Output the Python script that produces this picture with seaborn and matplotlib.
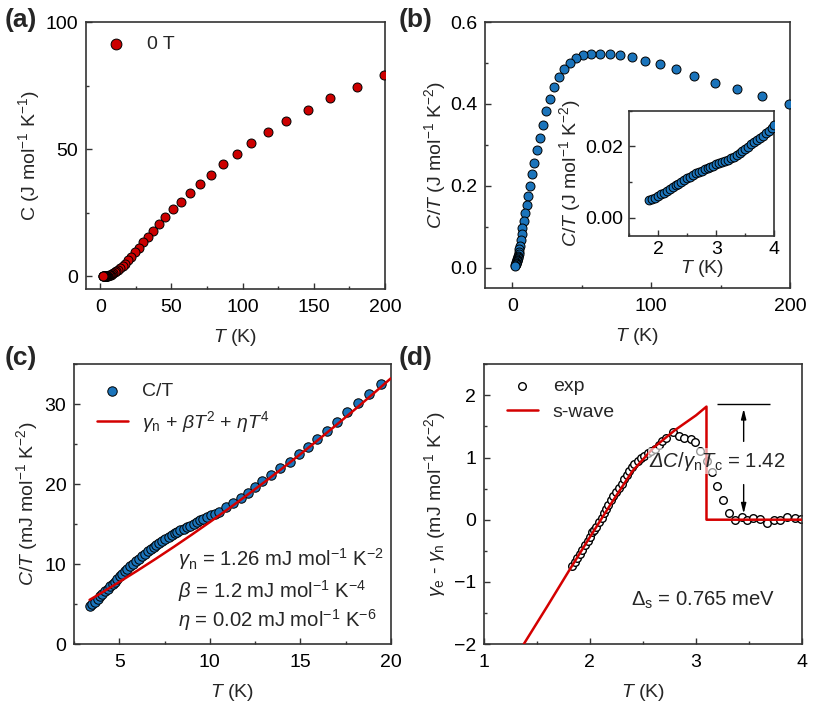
import matplotlib
matplotlib.use('Agg')
import matplotlib.pyplot as plt
import seaborn as sns
from matplotlib.ticker import AutoMinorLocator, MultipleLocator

# ---- (a) / (b): specific heat over the full range ----
temp_full = [199, 180, 161.5, 145.7, 130.5, 117.8, 106.2, 95.7, 85.9, 77.7,
             70, 63, 56.6, 50.8, 45.8, 41.3, 37.3, 33.5, 30.2, 27.1,
             24.5, 21.9, 19.6, 17.4, 15.7, 14.0, 12.5, 11.3, 10.1, 9.2,
             8.2, 7.2, 6.5, 5.8, 5.1, 4.8, 4.6, 4.4, 4.2, 4.0,
             3.8, 3.6, 3.4, 3.2, 3.0, 2.8, 2.6, 2.4, 2.2, 2.0, 1.85]
heat_c = [79.0, 74.5, 70.3, 65.5, 61.1, 56.6, 52.5, 48.1, 44.0, 40.0,
          36.2, 32.7, 29.4, 26.3, 23.4, 20.6, 18.0, 15.5, 13.3, 11.1,
          9.4, 7.7, 6.3, 5.0, 4.0, 3.2, 2.5, 2.0, 1.55, 1.23,
          0.94, 0.70, 0.53, 0.39, 0.27, 0.21, 0.17, 0.14, 0.12, 0.10,
          0.088, 0.074, 0.061, 0.052, 0.044, 0.036, 0.028, 0.022, 0.017, 0.012, 0.009]
c_over_t = [0.400, 0.418, 0.437, 0.452, 0.469, 0.484, 0.497, 0.505, 0.514, 0.520,
            0.521, 0.522, 0.522, 0.520, 0.512, 0.500, 0.485, 0.465, 0.441, 0.412,
            0.382, 0.349, 0.316, 0.287, 0.256, 0.229, 0.200, 0.175, 0.153, 0.134,
            0.114, 0.097, 0.081, 0.067, 0.053, 0.045, 0.037, 0.032, 0.029, 0.026,
            0.023, 0.0205, 0.0178, 0.0163, 0.0148, 0.0128, 0.0108, 0.0092, 0.0075, 0.0058, 0.0048]

# ---- (b) inset: low temperature C/T ----
temp_low = [1.85, 1.90, 1.95, 2.00, 2.05, 2.10, 2.15, 2.20, 2.25, 2.30,
            2.35, 2.40, 2.45, 2.50, 2.55, 2.60, 2.65, 2.70, 2.75, 2.80,
            2.85, 2.90, 2.95, 3.00, 3.05, 3.10, 3.15, 3.20, 3.25, 3.30,
            3.35, 3.40, 3.45, 3.50, 3.55, 3.60, 3.65, 3.70, 3.75, 3.80,
            3.85, 3.90, 3.95, 4.00]
c_over_t_low = [0.00485, 0.0052, 0.0056, 0.0061, 0.0066, 0.0070, 0.00745, 0.00795, 0.00855, 0.0091,
                0.00955, 0.0100, 0.01045, 0.0110, 0.01145, 0.0119, 0.0124, 0.01285, 0.0132, 0.01355,
                0.01395, 0.01425, 0.0146, 0.01495, 0.0153, 0.01565, 0.01595, 0.01625, 0.0166, 0.0171,
                0.0175, 0.01805, 0.0186, 0.0192, 0.01985, 0.0205, 0.0211, 0.02165, 0.02225, 0.0229,
                0.02365, 0.02435, 0.0251, 0.02585]

# ---- (c): C/T in mJ with fit ----
t_c = [3.36, 3.52, 3.67, 3.8, 3.94, 4.07, 4.2, 4.35, 4.5, 4.63,
       4.76, 4.9, 5.04, 5.17, 5.3, 5.45, 5.6, 5.78, 5.95, 6.1,
       6.26, 6.43, 6.6, 6.75, 6.9, 7.05, 7.2, 7.38, 7.55, 7.72,
       7.9, 8.05, 8.2, 8.38, 8.55, 8.72, 8.9, 9.1, 9.3, 9.47,
       9.65, 9.85, 10.05, 10.28, 10.5, 10.9, 11.3, 11.7, 12.1, 12.5,
       12.9, 13.4, 13.9, 14.4, 14.9, 15.4, 15.9, 16.46, 17.0, 17.57,
       18.2, 18.8, 19.45]
ct_mj = [4.8, 5.05, 5.3, 5.6, 5.95, 6.3, 6.6, 6.9, 7.2, 7.5,
         7.8, 8.15, 8.5, 8.8, 9.1, 9.4, 9.7, 10.0, 10.35, 10.7,
         11.0, 11.3, 11.6, 11.9, 12.2, 12.45, 12.7, 12.95, 13.2, 13.4,
         13.6, 13.85, 14.05, 14.25, 14.4, 14.6, 14.8, 15.05, 15.3, 15.5,
         15.7, 15.9, 16.1, 16.3, 16.5, 17.1, 17.6, 18.3, 18.95, 19.7,
         20.4, 21.2, 22.0, 22.8, 23.8, 24.7, 25.7, 26.6, 27.8, 29.0,
         30.2, 31.3, 32.6]
fit_t = [3.36, 4, 5, 6, 7, 8, 9, 10, 11, 12, 13, 14, 15, 16, 17, 18, 19, 20]
fit_ct = [5.52, 6.38, 7.76, 9.18, 10.64, 12.14, 13.68, 15.26, 16.88, 18.54,
          20.24, 21.98, 23.76, 25.58, 27.44, 29.34, 31.28, 33.26]

# ---- (d): electronic part and s-wave model ----
t_exp = [1.834, 1.86, 1.88, 1.91, 1.93, 1.95, 1.98, 2.00, 2.02, 2.04,
         2.06, 2.09, 2.11, 2.13, 2.15, 2.17, 2.20, 2.22, 2.25, 2.27,
         2.30, 2.32, 2.35, 2.37, 2.40, 2.42, 2.45, 2.48, 2.51, 2.55,
         2.58, 2.61, 2.65, 2.68, 2.72, 2.78, 2.84, 2.89, 2.95, 2.99,
         3.04, 3.10, 3.15, 3.20, 3.25, 3.31, 3.37, 3.43, 3.48, 3.54,
         3.60, 3.67, 3.73, 3.79, 3.86, 3.93, 3.99]
gamma_exp = [-0.75, -0.68, -0.62, -0.55, -0.48, -0.40, -0.35, -0.28, -0.20, -0.16,
             -0.11, -0.04, 0.03, 0.11, 0.17, 0.24, 0.31, 0.38, 0.44, 0.51,
             0.58, 0.65, 0.72, 0.78, 0.85, 0.90, 0.95, 0.99, 1.03, 1.07,
             1.10, 1.13, 1.21, 1.26, 1.32, 1.41, 1.34, 1.32, 1.30, 1.25,
             1.10, 0.94, 0.76, 0.55, 0.32, 0.11, 0.00, 0.05, -0.01, 0.02,
             0.01, -0.05, 0.00, -0.01, 0.04, 0.03, 0.01]
t_swave = [1.378, 1.6, 1.8, 2.0, 2.2, 2.4, 2.6, 2.8, 3.0, 3.098, 3.098, 4.0]
gamma_swave = [-2.0, -1.39, -0.83, -0.28, 0.26, 0.78, 1.16, 1.44, 1.68, 1.82, 0.0, 0.0]

RED = '#cc0000'
LINE_RED = '#d40000'
BLUE = '#1b74bb'
FS = 14

sns.set_theme(style='ticks')
plt.rcParams['font.family'] = ['Liberation Sans', 'DejaVu Sans']
plt.rcParams['mathtext.fontset'] = 'custom'
plt.rcParams['mathtext.rm'] = 'Liberation Sans'
plt.rcParams['mathtext.it'] = 'Liberation Sans:italic'
plt.rcParams['mathtext.bf'] = 'Liberation Sans:bold'
plt.rcParams['mathtext.sf'] = 'Liberation Sans:italic'


def style_axes(ax, xmaj, ymaj):
    for s in ax.spines.values():
        s.set_linewidth(1.2)
        s.set_color('#333333')
    ax.xaxis.set_major_locator(MultipleLocator(xmaj))
    ax.yaxis.set_major_locator(MultipleLocator(ymaj))
    ax.xaxis.set_minor_locator(AutoMinorLocator(2))
    ax.yaxis.set_minor_locator(AutoMinorLocator(2))
    ax.tick_params(which='both', direction='in', top=False, right=False,
                   color='#333333', width=1.0, labelcolor='black')
    ax.tick_params(which='major', length=4, labelsize=FS, pad=5.5)
    ax.tick_params(axis='x', which='major', pad=7)
    ax.tick_params(which='minor', length=2.5)


fig = plt.figure(figsize=(8.14, 7.12), dpi=100)

# (a)
ax = fig.add_axes([0.1057, 0.5941, 0.3673, 0.375])
sns.scatterplot(x=temp_full, y=heat_c, ax=ax, color=RED, edgecolor='black',
                linewidth=0.7, s=42, label='0 T', zorder=3)
ax.set_xlim(-10, 200)
ax.set_ylim(-5, 100)
style_axes(ax, 50, 50)
ax.set_xlabel('$T$ (K)', fontsize=FS, labelpad=8)
ax.set_ylabel('C (J mol$^{-1}$ K$^{-1}$)', fontsize=FS, labelpad=3)
ax.legend(loc='upper left', bbox_to_anchor=(0.047, 0.95), frameon=False,
          fontsize=FS, handlelength=1.6, handletextpad=0.8, markerscale=1.2,
          borderpad=0, borderaxespad=0)

# (b)
ax = fig.add_axes([0.5955, 0.5955, 0.375, 0.3736])
sns.scatterplot(x=temp_full, y=c_over_t, ax=ax, color=BLUE, edgecolor='black',
                linewidth=0.7, s=42, zorder=3)
ax.set_xlim(-20, 200)
ax.set_ylim(-0.05, 0.6)
style_axes(ax, 100, 0.2)
ax.set_xlabel('$T$ (K)', fontsize=FS, labelpad=8)
ax.set_ylabel('$C/T$ (J mol$^{-1}$ K$^{-2}$)', fontsize=FS, labelpad=1)

# (b) inset
axi = fig.add_axes([0.7727, 0.669, 0.1787, 0.1758])
sns.scatterplot(x=temp_low, y=c_over_t_low, ax=axi, color=BLUE, edgecolor='black',
                linewidth=0.7, s=40, zorder=3)
axi.set_xlim(1.5, 4.0)
axi.set_ylim(-0.005, 0.03)
style_axes(axi, 1, 0.02)
axi.tick_params(which='major', pad=4)
axi.set_xlabel('$T$ (K)', fontsize=FS, labelpad=0)
axi.set_ylabel('$C/T$ (J mol$^{-1}$ K$^{-2}$)', fontsize=FS, labelpad=2)

# (c)
ax = fig.add_axes([0.0909, 0.0955, 0.3894, 0.3928])
sns.scatterplot(x=t_c, y=ct_mj, ax=ax, color=BLUE, edgecolor='black',
                linewidth=0.7, s=46, label='C/T', zorder=2)
sns.lineplot(x=fit_t, y=fit_ct, ax=ax, color=LINE_RED, lw=1.8,
             label=r'$\gamma_\mathrm{n}$ + $\beta T^2$ + $\eta T^4$', zorder=3)
ax.set_xlim(2.5, 20)
ax.set_ylim(0, 35)
style_axes(ax, 5, 10)
ax.set_xlabel('$T$ (K)', fontsize=FS, labelpad=8)
ax.set_ylabel('$C/T$ (mJ mol$^{-1}$ K$^{-2}$)', fontsize=FS, labelpad=3)
ax.legend(loc='upper left', bbox_to_anchor=(0.072, 0.935), frameon=False,
          fontsize=FS, handlelength=1.6, handletextpad=0.7, labelspacing=0.45,
          markerscale=1.0, borderpad=0, borderaxespad=0)
ax.text(8.24, 10.57, r'$\gamma_\mathrm{n}$ = 1.26 mJ mol$^{-1}$ K$^{-2}$',
        fontsize=14.6, ha='left', va='center')
ax.text(8.24, 6.58, r'$\beta$ = 1.2 mJ mol$^{-1}$ K$^{-4}$',
        fontsize=14.6, ha='left', va='center')
ax.text(8.24, 3.02, r'$\eta$ = 0.02 mJ mol$^{-1}$ K$^{-6}$',
        fontsize=14.6, ha='left', va='center')

# (d)
ax = fig.add_axes([0.5942, 0.0955, 0.3914, 0.3928])
sns.scatterplot(x=t_exp, y=gamma_exp, ax=ax, color='white', edgecolor='black',
                linewidth=1.0, s=30, label='exp', zorder=2)
sns.lineplot(x=t_swave, y=gamma_swave, ax=ax, color=LINE_RED, lw=1.8,
             estimator=None, sort=False, label='s-wave', zorder=3)
ax.set_xlim(1, 4)
ax.set_ylim(-2, 2.5)
style_axes(ax, 1, 1)
ax.set_xlabel('$T$ (K)', fontsize=FS, labelpad=8)
ax.set_ylabel(r'$\gamma_\mathrm{e}$ - $\gamma_\mathrm{n}$ (mJ mol$^{-1}$ K$^{-2}$)',
              fontsize=FS, labelpad=4)
ax.legend(loc='upper left', bbox_to_anchor=(0.073, 0.952), frameon=False,
          fontsize=FS, handlelength=1.6, handletextpad=0.75, labelspacing=0.4,
          borderpad=0, borderaxespad=0)
ax.hlines(1.855, 3.2, 3.695, color='black', lw=1.0)
arrow = dict(arrowstyle='-|>,head_length=0.6,head_width=0.15', color='black',
             lw=1.0, mutation_scale=10, shrinkA=0, shrinkB=0)
ax.annotate('', xy=(3.448, 1.785), xytext=(3.448, 1.26), arrowprops=arrow)
ax.annotate('', xy=(3.448, 0.097), xytext=(3.448, 0.565), arrowprops=arrow)
ax.text(3.2, 0.94, r'$\mathsf{\Delta}C/\gamma_\mathrm{n}T_\mathrm{c}$ = 1.42',
        fontsize=14.6, ha='center', va='center', zorder=4,
        bbox=dict(facecolor='white', alpha=0.6, edgecolor='none', pad=1))
ax.text(3.07, -1.3, r'$\Delta_\mathrm{s}$ = 0.765 meV',
        fontsize=14.6, ha='center', va='center')

# panel labels
for lab, x, y in [('(a)', 0.006, 0.972), ('(b)', 0.490, 0.972),
                  ('(c)', 0.006, 0.497), ('(d)', 0.490, 0.497)]:
    fig.text(x, y, lab, fontsize=19, fontweight='bold', ha='left', va='center')

fig.savefig('out.png', dpi=100)
